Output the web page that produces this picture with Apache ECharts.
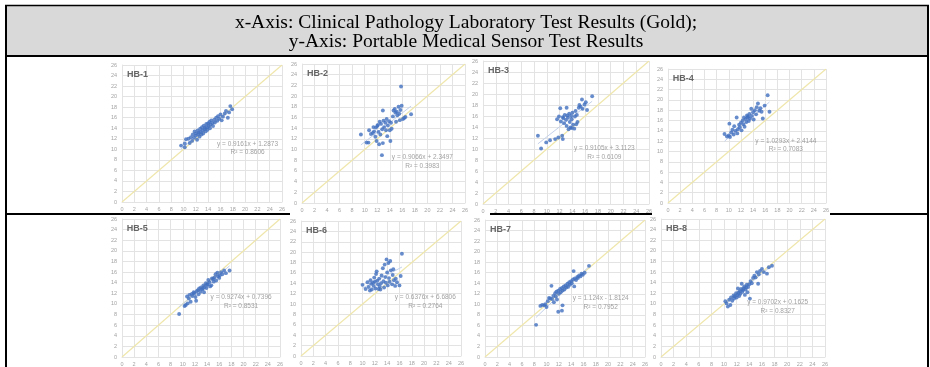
<!DOCTYPE html>
<html>
<head>
<meta charset="utf-8">
<script src="https://cdn.jsdelivr.net/npm/echarts@6/dist/echarts.min.js"></script>
<style>
  html, body { margin: 0; padding: 0; background: #fff; }
  #chart { width: 930px; height: 367px; }
</style>
</head>
<body>
<div id="chart"></div>
<script>
// header text of the table cell
const headerLines = [
  "x-Axis: Clinical Pathology Laboratory Test Results (Gold);",
  "y-Axis: Portable Medical Sensor Test Results"
];

// panel names
const titles = ["HB-1", "HB-2", "HB-3", "HB-4", "HB-5", "HB-6", "HB-7", "HB-8"];

// axis range (same for every panel)
const axisMin = 0;
const axisMax = 26;
const axisStep = 2;

// scatter values: [lab result, sensor result]
const hb1 = [
  [9.6, 10.7], [10.2, 10.4], [10.2, 11.1], [10.4, 11.9], [10.8, 12.0], [11.0, 11.2], [11.2, 12.3],
  [11.4, 11.6], [11.5, 12.8], [11.7, 12.2], [11.8, 13.4], [12.0, 12.6], [12.0, 13.0], [12.2, 11.8],
  [12.3, 13.6], [12.4, 12.9], [12.5, 13.2], [12.6, 12.4], [12.7, 13.9], [12.8, 13.3], [12.9, 12.8],
  [13.0, 14.2], [13.1, 13.6], [13.2, 13.0], [13.3, 14.5], [13.4, 13.8], [13.5, 14.1], [13.6, 13.4],
  [13.7, 14.8], [13.8, 14.2], [13.9, 13.7], [14.0, 14.9], [14.1, 14.4], [14.2, 15.2], [14.3, 14.0],
  [14.4, 14.7], [14.5, 15.5], [14.7, 15.0], [14.8, 14.4], [15.0, 15.6], [15.1, 15.1], [15.3, 16.0],
  [15.5, 15.4], [15.6, 16.3], [15.8, 15.8], [16.0, 16.6], [16.2, 15.5], [16.4, 16.2], [16.7, 16.8],
  [16.9, 17.3], [17.2, 16.0], [17.4, 17.0], [17.6, 18.2], [17.9, 17.6]
];
const hb2 = [
  [9.4, 12.8], [10.3, 11.3], [10.6, 11.3], [10.7, 13.6], [11.0, 12.9], [11.3, 13.1], [11.4, 14.2],
  [11.5, 13.4], [11.7, 12.4], [11.8, 14.1], [11.9, 11.6], [12.0, 14.4], [12.1, 14.6], [12.2, 13.3],
  [12.3, 11.0], [12.4, 15.2], [12.5, 12.8], [12.6, 14.8], [12.75, 8.95], [12.8, 13.8], [12.9, 17.3],
  [12.9, 11.2], [13.0, 15.4], [13.1, 14.2], [13.3, 15.0], [13.4, 13.6], [13.5, 15.7], [13.6, 12.5],
  [13.7, 14.5], [13.9, 15.3], [14.0, 13.6], [14.1, 11.6], [14.2, 15.0], [14.3, 13.9], [14.5, 16.2],
  [14.6, 17.3], [14.8, 17.6], [14.9, 16.9], [15.0, 15.2], [15.1, 17.1], [15.2, 16.4], [15.4, 18.0],
  [15.5, 16.7], [15.6, 15.5], [15.7, 17.4], [15.8, 21.8], [15.9, 18.2], [16.1, 15.7], [16.3, 15.9],
  [16.5, 16.1], [17.4, 16.6]
];
const hb3 = [
  [8.6, 12.4], [9.1, 10.1], [9.9, 11.2], [10.5, 11.6], [11.3, 11.8], [11.6, 15.4], [11.8, 12.1],
  [11.9, 15.9], [12.1, 17.4], [12.2, 15.0], [12.4, 12.4], [12.5, 11.8], [12.5, 15.8], [12.6, 15.6],
  [12.7, 14.7], [12.8, 16.2], [13.0, 15.3], [13.1, 17.5], [13.1, 14.2], [13.2, 16.1], [13.3, 15.7],
  [13.4, 13.6], [13.5, 16.4], [13.6, 14.9], [13.7, 13.9], [13.8, 16.0], [13.9, 13.8], [13.9, 15.4],
  [14.0, 16.6], [14.1, 14.4], [14.3, 13.7], [14.4, 15.9], [14.5, 16.9], [14.6, 14.5], [14.7, 16.2],
  [14.8, 14.9], [15.0, 17.5], [15.1, 18.0], [15.3, 17.7], [15.5, 19.0], [15.6, 17.3], [15.9, 18.1],
  [16.1, 18.5], [16.3, 17.1], [17.1, 19.6]
];
const hb4 = [
  [9.3, 13.4], [9.7, 12.9], [10.0, 13.1], [10.1, 15.4], [10.2, 12.8], [10.4, 13.7], [10.6, 14.2],
  [10.8, 13.3], [10.9, 14.9], [11.1, 14.0], [11.3, 16.6], [11.4, 13.5], [11.5, 14.3], [11.7, 15.2],
  [11.8, 14.7], [12.0, 15.6], [12.1, 14.1], [12.3, 16.0], [12.4, 15.3], [12.5, 16.6], [12.6, 14.8],
  [12.8, 16.3], [12.9, 15.7], [13.0, 17.0], [13.1, 16.6], [13.2, 16.8], [13.3, 15.9], [13.4, 17.3],
  [13.5, 16.4], [13.7, 18.3], [13.8, 16.9], [14.0, 17.6], [14.1, 16.2], [14.3, 18.0], [14.5, 17.2],
  [14.6, 18.6], [14.8, 19.3], [15.0, 17.9], [15.2, 18.4], [15.4, 17.7], [15.6, 16.4], [15.9, 18.9],
  [16.4, 20.9], [16.7, 17.7]
];
const hb5 = [
  [9.4, 8.1], [10.3, 9.6], [10.5, 9.8], [10.7, 11.4], [10.8, 10.1], [11.0, 11.0], [11.1, 11.7],
  [11.3, 10.4], [11.5, 11.9], [11.6, 11.5], [11.8, 12.2], [11.9, 12.0], [12.1, 11.3], [12.2, 10.6],
  [12.3, 12.4], [12.5, 12.6], [12.6, 11.8], [12.7, 12.9], [12.9, 12.3], [13.0, 13.1], [13.2, 12.7],
  [13.3, 12.9], [13.4, 13.5], [13.5, 12.2], [13.6, 13.2], [13.8, 13.9], [13.9, 13.0], [14.0, 13.6],
  [14.1, 13.7], [14.2, 14.5], [14.4, 14.1], [14.5, 13.3], [14.7, 13.5], [14.8, 14.8], [15.0, 14.7],
  [15.1, 14.2], [15.2, 15.0], [15.4, 15.6], [15.5, 14.4], [15.7, 15.9], [15.8, 15.2], [16.0, 14.9],
  [16.1, 15.4], [16.3, 16.0], [16.5, 15.6], [16.8, 16.3], [17.1, 15.8], [17.7, 16.3]
];
const hb6 = [
  [10.0, 13.7], [10.5, 12.9], [10.8, 14.2], [11.0, 13.3], [11.2, 12.6], [11.3, 14.6], [11.4, 13.9],
  [11.5, 12.8], [11.7, 14.1], [11.8, 13.5], [11.9, 15.1], [12.0, 14.3], [12.1, 13.0], [12.2, 15.8],
  [12.3, 16.3], [12.4, 14.5], [12.5, 13.8], [12.6, 12.9], [12.7, 14.9], [12.8, 13.4], [12.9, 12.8],
  [13.0, 14.0], [13.1, 15.5], [13.3, 16.9], [13.4, 14.4], [13.5, 13.2], [13.6, 17.6], [13.7, 15.2],
  [13.8, 14.1], [13.9, 18.6], [14.0, 16.1], [14.1, 13.6], [14.2, 17.9], [14.3, 15.0], [14.4, 14.3],
  [14.5, 18.3], [14.6, 16.5], [14.8, 13.8], [14.9, 15.6], [15.0, 16.7], [15.1, 14.6], [15.3, 13.5],
  [15.4, 14.9], [15.6, 14.2], [16.0, 13.6], [16.2, 15.4], [16.4, 19.7]
];
const hb7 = [
  [8.3, 6.1], [9.0, 9.7], [9.3, 9.9], [9.6, 9.8], [9.8, 10.0], [10.0, 9.5], [10.2, 10.6],
  [10.4, 11.2], [10.6, 11.1], [10.8, 13.5], [10.9, 11.0], [11.1, 11.6], [11.2, 10.4], [11.4, 12.1],
  [11.5, 11.5], [11.6, 12.4], [11.7, 10.9], [11.9, 8.6], [11.9, 12.6], [12.0, 12.0], [12.2, 12.9],
  [12.3, 12.3], [12.5, 8.8], [12.5, 13.1], [12.6, 9.8], [12.6, 12.6], [12.8, 13.4], [12.9, 12.8],
  [13.1, 13.6], [13.2, 13.2], [13.4, 13.9], [13.5, 13.3], [13.7, 14.2], [13.8, 13.7], [14.0, 14.4],
  [14.1, 14.0], [14.3, 14.7], [14.4, 16.3], [14.5, 13.4], [14.6, 14.9], [14.8, 14.6], [15.0, 15.2],
  [15.1, 15.0], [15.3, 15.5], [15.5, 15.3], [15.7, 15.8], [15.9, 15.6], [16.2, 16.0], [16.9, 17.3]
];
const hb8 = [
  [10.2, 10.5], [10.4, 10.1], [10.6, 9.5], [10.8, 10.8], [11.0, 9.8], [11.1, 11.2], [11.3, 10.6],
  [11.5, 11.6], [11.6, 11.0], [11.7, 11.4], [11.9, 12.0], [12.0, 11.2], [12.1, 11.7], [12.2, 12.9],
  [12.3, 12.1], [12.4, 11.5], [12.5, 12.4], [12.6, 11.9], [12.7, 12.8], [12.8, 13.8], [12.9, 12.3],
  [13.0, 12.6], [13.1, 12.9], [13.2, 13.3], [13.3, 11.7], [13.4, 12.7], [13.5, 13.1], [13.6, 13.6],
  [13.7, 12.2], [13.8, 13.2], [14.0, 13.7], [14.1, 11.0], [14.2, 14.3], [14.4, 13.9], [14.6, 14.9],
  [14.8, 15.3], [15.0, 15.0], [15.2, 16.0], [15.4, 13.8], [15.5, 15.6], [15.7, 16.2], [16.0, 16.6],
  [16.3, 16.0], [16.8, 15.7], [17.1, 16.9], [17.6, 17.2]
];
const panels = [hb1, hb2, hb3, hb4, hb5, hb6, hb7, hb8];

// trendline equations printed on each panel
const slopes = [0.9161, 0.9066, 0.9105, 1.0293, 0.9274, 0.6376, 1.124, 0.9702];
const intercepts = [1.2873, 2.3497, 3.1123, 2.4144, 0.7396, 6.6806, -1.8124, 0.1625];
const equations = [
  "y = 0.9161x + 1.2873", "y = 0.9066x + 2.3497", "y = 0.9105x + 3.1123", "y = 1.0293x + 2.4144",
  "y = 0.9274x + 0.7396", "y = 0.6376x + 6.6806", "y = 1.124x - 1.8124", "y = 0.9702x + 0.1625"
];
const rSquared = ["0.8606", "0.3983", "0.6109", "0.7083", "0.8531", "0.2764", "0.7952", "0.8327"];

// layout: plot boxes in page pixels [left, top, width, height]
const boxes = [
  [122, 65, 160, 137], [302, 64, 163, 139], [483, 61, 166, 143], [668, 69, 158, 134],
  [122, 219, 158, 141], [301, 221, 160, 135], [485, 220, 160, 137], [661, 219, 164, 141]
];
// where the equation block sits, in data units
const eqSpots = [
  [20.4, 10.2], [19.2, 7.7], [19.0, 9.3], [19.4, 11.2],
  [19.6, 10.4], [20.2, 10.4], [18.8, 10.3], [18.5, 9.5]
];
const titleSpot = [0.8, 24.2];

const gridLineColor = "#e3e3e3";
const labelColor = "#a3a3a3";
const dotColor = "#416fbf";
const identityColor = "#efe6ab";
const trendColor = "#c3d1ea";

const chart = echarts.init(document.getElementById("chart"));

const grids = [], xAxes = [], yAxes = [], series = [];
boxes.forEach((b, i) => {
  grids.push({ left: b[0], top: b[1], width: b[2], height: b[3] });
  const axisBase = {
    gridIndex: i,
    type: "value",
    min: axisMin,
    max: axisMax,
    interval: axisStep,
    axisLine: { show: true, lineStyle: { color: gridLineColor } },
    axisTick: { show: false },
    splitLine: { show: true, lineStyle: { color: gridLineColor, width: 1 } },
    axisLabel: { fontSize: 5.5, color: labelColor, fontFamily: "Liberation Sans" }
  };
  xAxes.push({ ...axisBase, axisLabel: { ...axisBase.axisLabel, margin: 4 } });
  yAxes.push({ ...axisBase, axisLabel: { ...axisBase.axisLabel, margin: 5 } });

  const pts = panels[i];
  const xs = pts.map(p => p[0]);
  const x0 = Math.min(...xs), x1 = Math.max(...xs);

  // y = x reference line
  series.push({
    type: "line", xAxisIndex: i, yAxisIndex: i, symbol: "none", silent: true,
    data: [[axisMin, axisMin], [axisMax, axisMax]],
    lineStyle: { color: identityColor, width: 1.2 }, z: 1
  });
  // linear trendline from the printed equation
  series.push({
    type: "line", xAxisIndex: i, yAxisIndex: i, symbol: "none", silent: true,
    data: [[x0, slopes[i] * x0 + intercepts[i]], [x1, slopes[i] * x1 + intercepts[i]]],
    lineStyle: { color: trendColor, width: 1 }, z: 2
  });
  // measurements
  series.push({
    type: "scatter", xAxisIndex: i, yAxisIndex: i, data: pts,
    symbolSize: 3.9, itemStyle: { color: dotColor }, z: 3
  });
  // equation + R²
  series.push({
    type: "scatter", xAxisIndex: i, yAxisIndex: i, symbolSize: 0, silent: true,
    data: [eqSpots[i]], z: 4,
    label: {
      show: true, position: "inside", align: "center",
      formatter: equations[i] + "\nR\u00B2 = " + rSquared[i],
      fontSize: 6.5, lineHeight: 8.7, color: "#8a8a8a", fontFamily: "Liberation Sans"
    }
  });
  // panel title
  series.push({
    type: "scatter", xAxisIndex: i, yAxisIndex: i, symbolSize: 0, silent: true,
    data: [titleSpot], z: 4,
    label: {
      show: true, position: "right", distance: 0, formatter: titles[i],
      fontSize: 9, fontWeight: "bold", color: "#404040", fontFamily: "Liberation Sans"
    }
  });
});

const black = { stroke: "#000", lineWidth: 2 };
const headFont = '19.5px "Liberation Serif"';
chart.setOption({
  animation: false,
  backgroundColor: "#fff",
  grid: grids,
  xAxis: xAxes,
  yAxis: yAxes,
  series: series,
  graphic: [
    { type: "rect", z: -10, shape: { x: 6, y: 5, width: 922, height: 51 }, style: { fill: "#d9d9d9" } },
    { type: "line", shape: { x1: 5, y1: 5.5, x2: 929, y2: 5.5 }, style: { stroke: "#000", lineWidth: 1.5 } },
    { type: "line", shape: { x1: 5, y1: 56, x2: 929, y2: 56 }, style: black },
    { type: "line", shape: { x1: 6, y1: 5, x2: 6, y2: 367 }, style: black },
    { type: "line", shape: { x1: 928, y1: 5, x2: 928, y2: 367 }, style: black },
    { type: "line", shape: { x1: 5, y1: 214, x2: 290, y2: 214 }, style: black },
    { type: "line", shape: { x1: 490, y1: 214, x2: 652, y2: 214 }, style: black },
    { type: "line", shape: { x1: 830, y1: 214, x2: 929, y2: 214 }, style: black },
    {
      type: "text", x: 466, y: 23,
      style: { text: headerLines[0], font: headFont, fill: "#000", textAlign: "center", textVerticalAlign: "middle" }
    },
    {
      type: "text", x: 466, y: 42,
      style: { text: headerLines[1], font: headFont, fill: "#000", textAlign: "center", textVerticalAlign: "middle" }
    }
  ]
});
</script>
</body>
</html>
